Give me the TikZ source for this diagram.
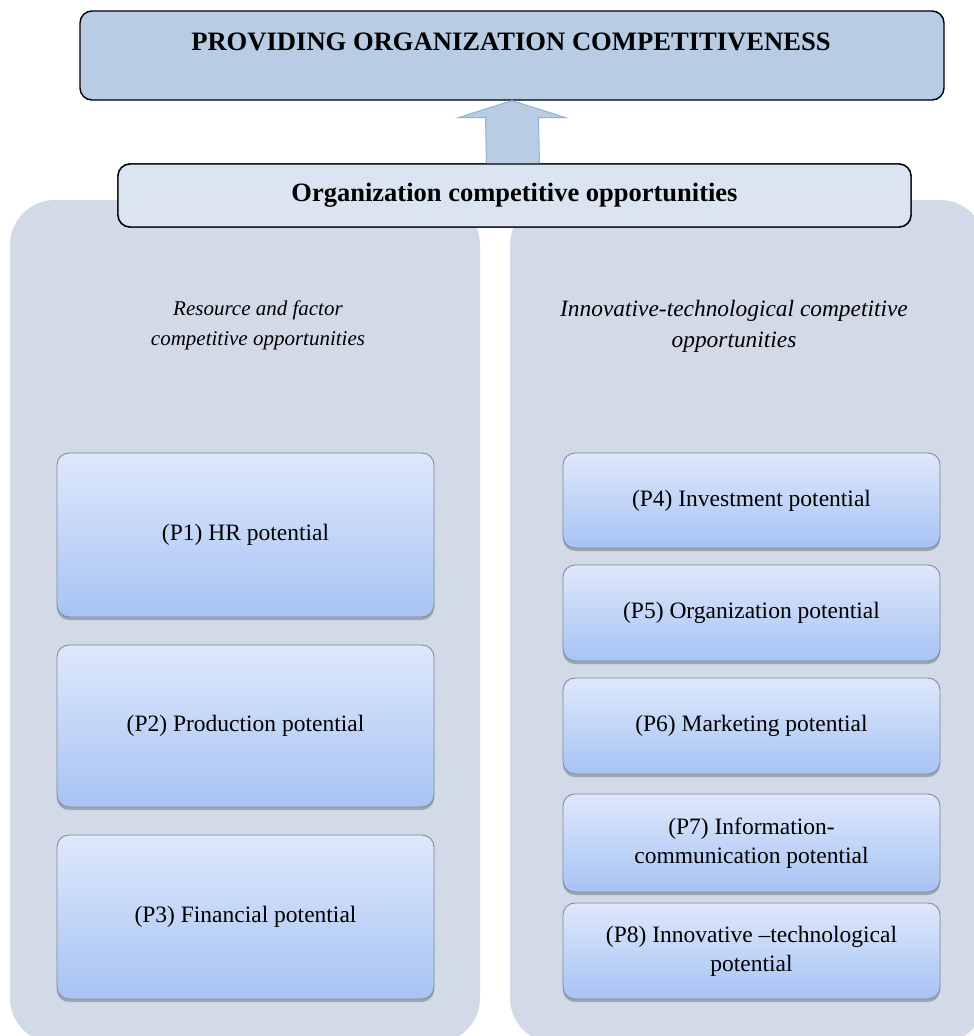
\documentclass[tikz,border=0pt]{standalone}
\usepackage{fontspec}
\setmainfont{Liberation Serif}
\usetikzlibrary{shadows,calc}
\definecolor{topfill}{HTML}{B8CCE4}
\definecolor{oppfill}{HTML}{DBE5F1}
\definecolor{panelfill}{HTML}{D2D9E7}
\definecolor{gradtop}{HTML}{DEE8FB}
\definecolor{gradbot}{HTML}{A7C3F4}
\definecolor{boxedge}{HTML}{7F8CA0}
\definecolor{arrowedge}{HTML}{8DB3E2}
\tikzset{
  headbox/.style={draw=black, line width=1.4pt, rounded corners=12pt, inner sep=0pt},
  panel/.style={fill=panelfill, draw=none, rounded corners=45pt},
  potbox/.style={draw=boxedge, line width=0.9pt, rounded corners=12pt,
    top color=gradtop, bottom color=gradbot, minimum width=377pt,
    align=center, font=\fontsize{23.5}{29}\selectfont, inner sep=0pt,
    drop shadow={shadow xshift=0pt, shadow yshift=-3pt, opacity=0.45, fill=black!60}},
  paneltitle/.style={align=center, font=\fontsize{21}{30}\selectfont\itshape}
}
\begin{document}
\begin{tikzpicture}[x=1pt,y=-1pt]
\useasboundingbox (0,0) rectangle (974,1036);
\clip (0,0) rectangle (974,1036);
\fill[white] (0,0) rectangle (974,1036);
% panels
\path[panel] (10,200) rectangle (480,1043);
\path[panel] (510,200) rectangle (985,1043);
% top box
\node[headbox, fill=topfill, minimum width=864pt, minimum height=89pt] (topbox) at (512,55.5) {};
\node[font=\fontsize{26.6}{32}\selectfont\bfseries] (toptext) at (511,42) {PROVIDING ORGANIZATION COMPETITIVENESS};
% opportunities box
\node[headbox, fill=oppfill, minimum width=793pt, minimum height=63pt,
  font=\fontsize{26.5}{32}\selectfont\bfseries] (opp) at (514.5,195.5) {Organization competitive opportunities};
% block arrow from opp to topbox
\coordinate (ab) at (513,165);
\coordinate (at) at (topbox.south);
\filldraw[fill=topfill, draw=arrowedge, line width=1pt]
  ($(ab)+(-26.5,0)$) -- ($(at)+(-26.5,17)$) -- ($(at)+(-54,17)$) -- (at)
  -- ($(at)+(54,17)$) -- ($(at)+(26.5,17)$) -- ($(ab)+(26.5,0)$);
% redraw opp box on top
\node[headbox, fill=oppfill, minimum width=793pt, minimum height=63pt,
  font=\fontsize{26.5}{32}\selectfont\bfseries] at (opp) {Organization competitive opportunities};
% panel titles
\node[paneltitle] (ltitle) at (258,325) {Resource and factor\\competitive opportunities};
\node[paneltitle, font=\fontsize{23.4}{31}\selectfont\itshape] (rtitle) at (734,326) {Innovative-technological competitive\\opportunities};
% left boxes
\node[potbox, minimum height=164pt] (p1) at (245.5,535) {(P1) HR potential};
\node[potbox, minimum height=162pt] (p2) at (245.5,726) {(P2) Production potential};
\node[potbox, minimum height=164pt] (p3) at (245.5,917) {(P3) Financial potential};
% right boxes
\node[potbox, minimum height=95pt] (p4) at (751.5,500.5) {(P4) Investment potential};
\node[potbox, minimum height=96pt] (p5) at (751.5,613) {(P5) Organization potential};
\node[potbox, minimum height=96pt] (p6) at (751.5,726) {(P6) Marketing potential};
\node[potbox, minimum height=98pt] (p7) at (751.5,843) {(P7) Information-\\communication potential};
\node[potbox, minimum height=96pt] (p8) at (751.5,951) {(P8) Innovative –technological\\potential};
\end{tikzpicture}
\end{document}
